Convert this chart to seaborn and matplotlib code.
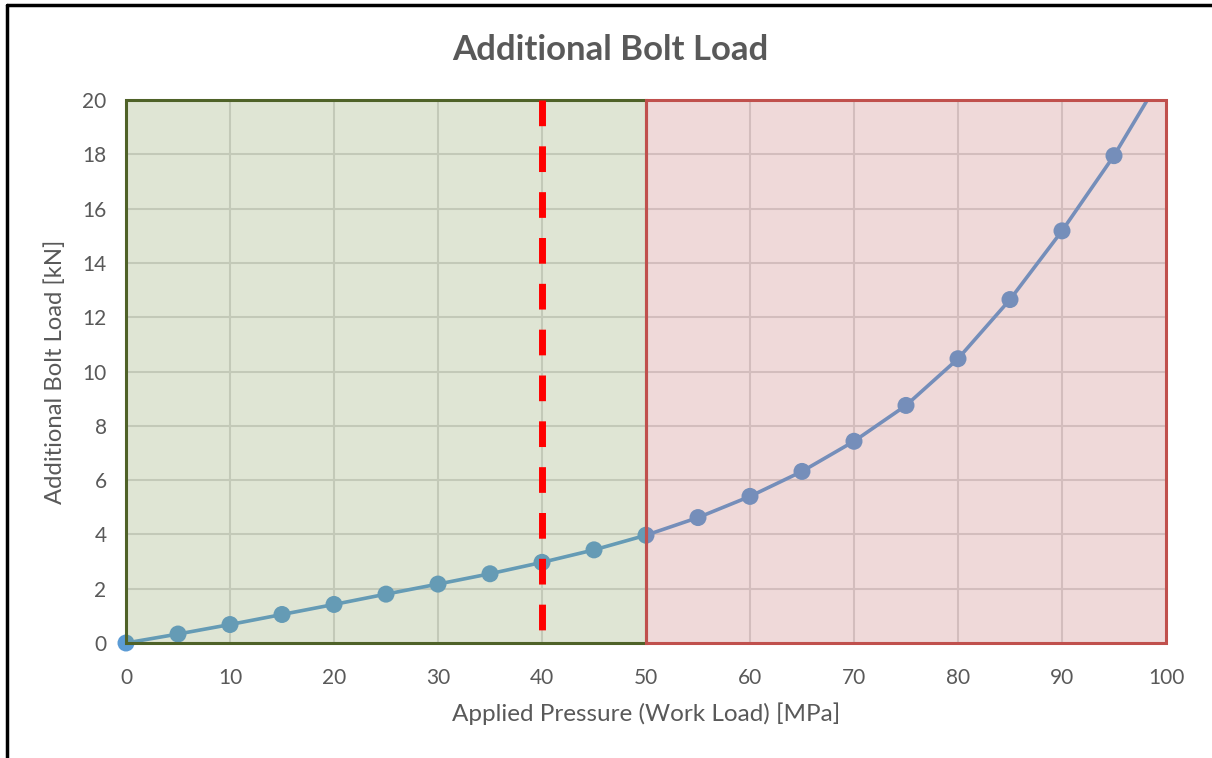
import matplotlib
matplotlib.use("Agg")
import matplotlib.pyplot as plt
from matplotlib.patches import Rectangle
from matplotlib.lines import Line2D
import numpy as np
import pandas as pd
import seaborn as sns

# Applied pressure [MPa] and resulting additional bolt load [kN]
pressure = [0, 5, 10, 15, 20, 25, 30, 35, 40, 45, 50,
            55, 60, 65, 70, 75, 80, 85, 90, 95, 100]
bolt_load = [0.0, 0.33, 0.68, 1.05, 1.42, 1.80, 2.17, 2.55, 2.97, 3.43, 3.97,
             4.62, 5.40, 6.32, 7.43, 8.75, 10.47, 12.65, 15.18, 17.95, 21.15]

safe_zone = (0, 50)
critical_zone = (50, 100)
design_limit = 40

x_ticks = list(range(0, 101, 10))
y_ticks = list(range(0, 21, 2))

title = "Additional Bolt Load"
x_label = "Applied Pressure (Work Load) [MPa]"
y_label = "Additional Bolt Load [kN]"

df = pd.DataFrame({"pressure": pressure, "load": bolt_load})

sns.set_theme(style="white")
plt.rcParams["font.family"] = ["Lato", "DejaVu Sans"]

text_grey = "#595959"
line_blue = "#5B9BD5"

fig, ax = plt.subplots(figsize=(12.12, 7.58), dpi=100)
fig.subplots_adjust(left=126 / 1212, right=1166 / 1212,
                    bottom=1 - 643 / 758, top=1 - 100 / 758)

ax.set_xlim(0, 100)
ax.set_ylim(0, 20)
ax.set_xticks(x_ticks)
ax.set_yticks(y_ticks)
ax.grid(True, color="#D9D9D9", linewidth=1.5, zorder=0)
ax.set_axisbelow(True)
for s in ax.spines.values():
    s.set_visible(False)

# Curve and markers
sns.lineplot(data=df, x="pressure", y="load", ax=ax, color=line_blue,
             linewidth=2.6, zorder=2)
shown = df[df["load"] <= 20]
sns.scatterplot(data=shown, x="pressure", y="load", ax=ax, color=line_blue,
                s=150, edgecolor="none", zorder=2, clip_on=False)

# Shaded zones (translucent so the curve shows through)
ax.axvspan(*safe_zone, color="#839B57", alpha=0.25, lw=0, zorder=3)
ax.axvspan(*critical_zone, color="#C36B6B", alpha=0.25, lw=0, zorder=3)
ax.add_patch(Rectangle((safe_zone[0], 0), safe_zone[1] - safe_zone[0], 20,
                       fill=False, edgecolor="#4F6228", linewidth=2.2,
                       zorder=4, clip_on=False))
ax.add_patch(Rectangle((critical_zone[0], 0), critical_zone[1] - critical_zone[0], 20,
                       fill=False, edgecolor="#C0504D", linewidth=2.2,
                       zorder=4, clip_on=False))

# Design limit, dashed from the top of the plot downwards
ax.axvline(design_limit, ymin=1.0, ymax=0.0, color="#FF0000", linewidth=5,
           dashes=(3.7, 2.9), zorder=5)

ax.tick_params(axis="both", length=0, labelsize=15, labelcolor=text_grey)
ax.tick_params(axis="y", pad=14)
ax.tick_params(axis="x", pad=18)
ax.set_xlabel(x_label, fontsize=17.5, color=text_grey, labelpad=10)
ax.set_ylabel(y_label, fontsize=17.2, color=text_grey, labelpad=12)

fig.text(610 / 1212, 1 - 50 / 758, title, ha="center", va="center",
         fontsize=25, fontweight="bold", color=text_grey)

# Chart frame on left and top
fig.add_artist(Line2D([7 / 1212, 7 / 1212], [0, 1 - 5 / 758],
                      transform=fig.transFigure, color="black", linewidth=2.5))
fig.add_artist(Line2D([7 / 1212, 1], [1 - 5 / 758, 1 - 5 / 758],
                      transform=fig.transFigure, color="black", linewidth=2.5))

fig.savefig("out.png", dpi=100)
